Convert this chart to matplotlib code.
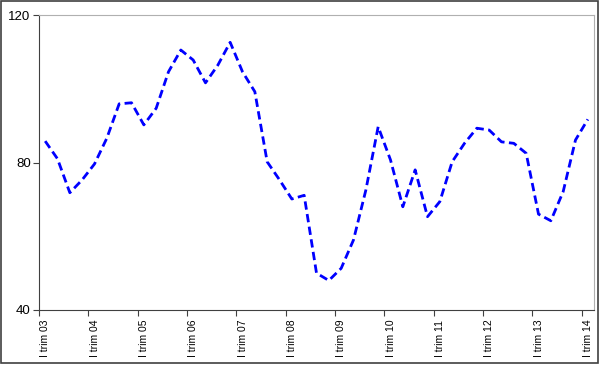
import numpy as np
import matplotlib
matplotlib.use("Agg")
import matplotlib.pyplot as plt
from matplotlib.patches import Rectangle

# quarterly index, I trim 03 .. I trim 14
values = [85.8, 81.0, 71.8, 75.3, 79.6, 86.6, 95.9, 96.2,
          90.2, 94.7, 104.6, 110.5, 107.8, 101.6, 106.4, 112.6,
          104.6, 99.2, 80.2, 75.3, 70.1, 71.1, 50.0, 48.0,
          51.3, 59.0, 72.5, 89.7, 80.7, 68.0, 78.0, 65.3,
          69.4, 80.2, 85.2, 89.3, 88.8, 85.6, 85.2, 82.5,
          66.0, 64.2, 72.1, 86.1, 91.7]
years = ["03", "04", "05", "06", "07", "08", "09", "10", "11", "12", "13", "14"]
tick_labels = ["I trim " + y for y in years]

plt.rcParams['font.family'] = ['Liberation Sans', 'DejaVu Sans']

fig = plt.figure(figsize=(6, 3.65), dpi=100)
ax = fig.add_axes([39 / 600, 55 / 365, 555 / 600, 295 / 365])

x = np.arange(len(values))
ax.plot(x, values, color='#0000ff', lw=2.0, linestyle=(0, (3, 1.6)))

ax.set_xlim(-0.5, len(values) - 0.5)
ax.set_ylim(40, 120)
ax.set_yticks([40, 80, 120])
ax.tick_params(axis='y', labelsize=9.5, length=4, color='#404040', pad=2)

# ticks between quarters, labels on the first quarter of each year
ax.set_xticks(np.arange(-0.5, len(values), 4))
ax.set_xticklabels([])
ax.set_xticks(np.arange(0, len(values), 4), minor=True)
ax.set_xticklabels(tick_labels, minor=True, rotation=90, fontsize=7.5)
ax.tick_params(axis='x', which='major', length=4, color='#404040')
ax.tick_params(axis='x', which='minor', length=0, pad=7)

ax.spines['left'].set_color('#404040')
ax.spines['bottom'].set_color('#404040')
ax.spines['top'].set_color('#b0b0b0')
ax.spines['right'].set_color('#b0b0b0')

fig.patches.append(Rectangle((0.5 / 600, 2 / 365), 597.5 / 600, 362.5 / 365,
                             transform=fig.transFigure, fill=False,
                             edgecolor='#404040', lw=1.2))

fig.savefig("out.png", dpi=100)
